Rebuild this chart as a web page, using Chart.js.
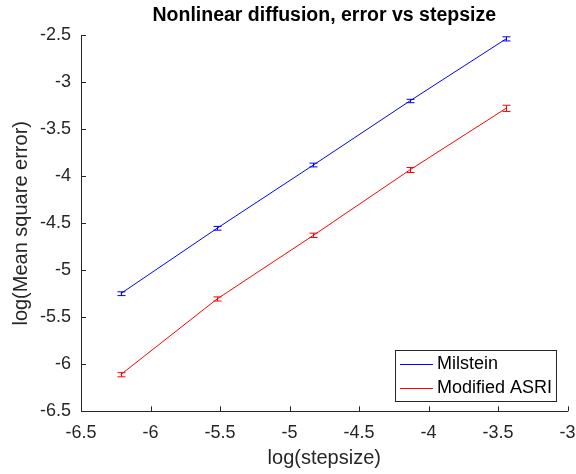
<!DOCTYPE html>
<html><head><meta charset="utf-8">
<script src="https://cdn.jsdelivr.net/npm/chart.js@4/dist/chart.umd.min.js"></script>
<style>html,body{margin:0;padding:0;background:#fff}#wrap{width:576px;height:474px}</style>
</head><body><div id="wrap"><canvas id="c" width="576" height="474"></canvas></div>
<script>
const stepLog = [-6.215, -5.521, -4.828, -4.135, -3.442];
const milstein = [-5.249, -4.553, -3.880, -3.199, -2.538];
const milsteinErr = [0.02, 0.02, 0.02, 0.018, 0.022];
const asri = [-6.111, -5.305, -4.628, -3.933, -3.277];
const asriErr = [0.022, 0.022, 0.023, 0.027, 0.033];
const xTicks = [-6.5, -6, -5.5, -5, -4.5, -4, -3.5, -3];
const yTicks = [-6.5, -6, -5.5, -5, -4.5, -4, -3.5, -3, -2.5];
const seriesNames = ['Milstein', 'Modified ASRI'];
const titleText = 'Nonlinear diffusion, error vs stepsize';
const xLabel = 'log(stepsize)';
const yLabel = 'log(Mean square error)';

const FONT = "'Liberation Sans', Arial, Helvetica, sans-serif";
const AX = '#262626';

function pts(ys) { return stepLog.map((x, i) => ({x: x, y: ys[i]})); }

const decor = {
  id: 'decor',
  afterDatasetsDraw(chart) {
    const {ctx, chartArea: a, scales: {x, y}} = chart;
    ctx.save();
    ctx.lineWidth = 1;
    chart.data.datasets.forEach(ds => {
      ctx.strokeStyle = ds.borderColor;
      ds.data.forEach((p, j) => {
        const px = Math.round(x.getPixelForValue(p.x)) + 0.5;
        const y1 = y.getPixelForValue(p.y - ds.errors[j]);
        const y2 = y.getPixelForValue(p.y + ds.errors[j]);
        ctx.beginPath();
        ctx.moveTo(px, y1); ctx.lineTo(px, y2);
        ctx.moveTo(px - 4, y1); ctx.lineTo(px + 4, y1);
        ctx.moveTo(px - 4, y2); ctx.lineTo(px + 4, y2);
        ctx.stroke();
      });
    });
    // inward ticks
    ctx.strokeStyle = AX;
    ctx.beginPath();
    xTicks.forEach(v => {
      const px = Math.round(x.getPixelForValue(v)) + 0.5;
      ctx.moveTo(px, a.bottom); ctx.lineTo(px, a.bottom - 5);
    });
    yTicks.forEach(v => {
      const py = Math.round(y.getPixelForValue(v)) + 0.5;
      ctx.moveTo(a.left, py); ctx.lineTo(a.left + 5, py);
    });
    ctx.stroke();
    ctx.restore();
  },
  afterDraw(chart) {
    const {ctx, chartArea: a} = chart;
    ctx.save();
    // title
    ctx.fillStyle = '#000';
    ctx.font = "bold 19.5px " + FONT;
    ctx.textAlign = 'center';
    ctx.textBaseline = 'middle';
    ctx.fillText(titleText, (a.left + a.right) / 2, 16);
    // legend
    const bx = a.right - 11.5 - 161, by = a.bottom - 9.6 - 51.7;
    ctx.fillStyle = '#fff';
    ctx.fillRect(bx, by, 161, 51.7);
    ctx.strokeStyle = AX;
    ctx.lineWidth = 1;
    ctx.strokeRect(Math.round(bx) + 0.5, Math.round(by) + 0.5, 161, 51);
    ctx.font = "18px " + FONT;
    ctx.textAlign = 'left';
    chart.data.datasets.forEach((ds, i) => {
      const cy = by + 14 + i * 24;
      ctx.strokeStyle = ds.borderColor;
      ctx.beginPath();
      ctx.moveTo(bx + 5, Math.round(cy) + 0.5); ctx.lineTo(bx + 38, Math.round(cy) + 0.5);
      ctx.stroke();
      ctx.fillStyle = '#000';
      ctx.fillText(ds.label, bx + 42, cy);
    });
    ctx.restore();
  }
};

new Chart(document.getElementById('c'), {
  type: 'scatter',
  data: {
    datasets: [
      {label: seriesNames[0], data: pts(milstein), errors: milsteinErr, borderColor: '#0000ff', backgroundColor: '#0000ff', showLine: true, borderWidth: 1, pointRadius: 0, tension: 0},
      {label: seriesNames[1], data: pts(asri), errors: asriErr, borderColor: '#ff0000', backgroundColor: '#ff0000', showLine: true, borderWidth: 1, pointRadius: 0, tension: 0}
    ]
  },
  options: {
    responsive: false,
    animation: false,
    devicePixelRatio: 1,
    layout: {padding: {top: 35.3, right: 8.5, left: 0, bottom: 0}},
    plugins: {legend: {display: false}, tooltip: {enabled: false}, title: {display: false}},
    scales: {
      x: {
        type: 'linear', min: -6.5, max: -3,
        afterBuildTicks: s => { s.ticks = xTicks.map(v => ({value: v})); },
        afterFit: s => { s.height = 62.7; s.paddingLeft = 0; s.paddingRight = 0; },
        ticks: {callback: v => String(v), padding: 11, color: AX, font: {family: FONT, size: 18}, maxRotation: 0, autoSkip: false},
        grid: {display: false, drawTicks: false},
        border: {display: true, color: AX, width: 1},
        title: {display: true, text: xLabel, color: AX, font: {family: FONT, size: 20}, padding: {top: 0, bottom: 4}}
      },
      y: {
        type: 'linear', min: -6.5, max: -2.5,
        afterBuildTicks: s => { s.ticks = yTicks.map(v => ({value: v})); },
        afterFit: s => { s.width = 81; s.paddingTop = 0; s.paddingBottom = 0; },
        ticks: {callback: v => String(v), padding: 10, color: AX, font: {family: FONT, size: 18}, autoSkip: false},
        grid: {display: false, drawTicks: false},
        border: {display: true, color: AX, width: 1},
        title: {display: true, text: yLabel, color: AX, font: {family: FONT, size: 20}, padding: {top: 9, bottom: 0}}
      }
    }
  },
  plugins: [decor]
});
</script>
</body></html>
